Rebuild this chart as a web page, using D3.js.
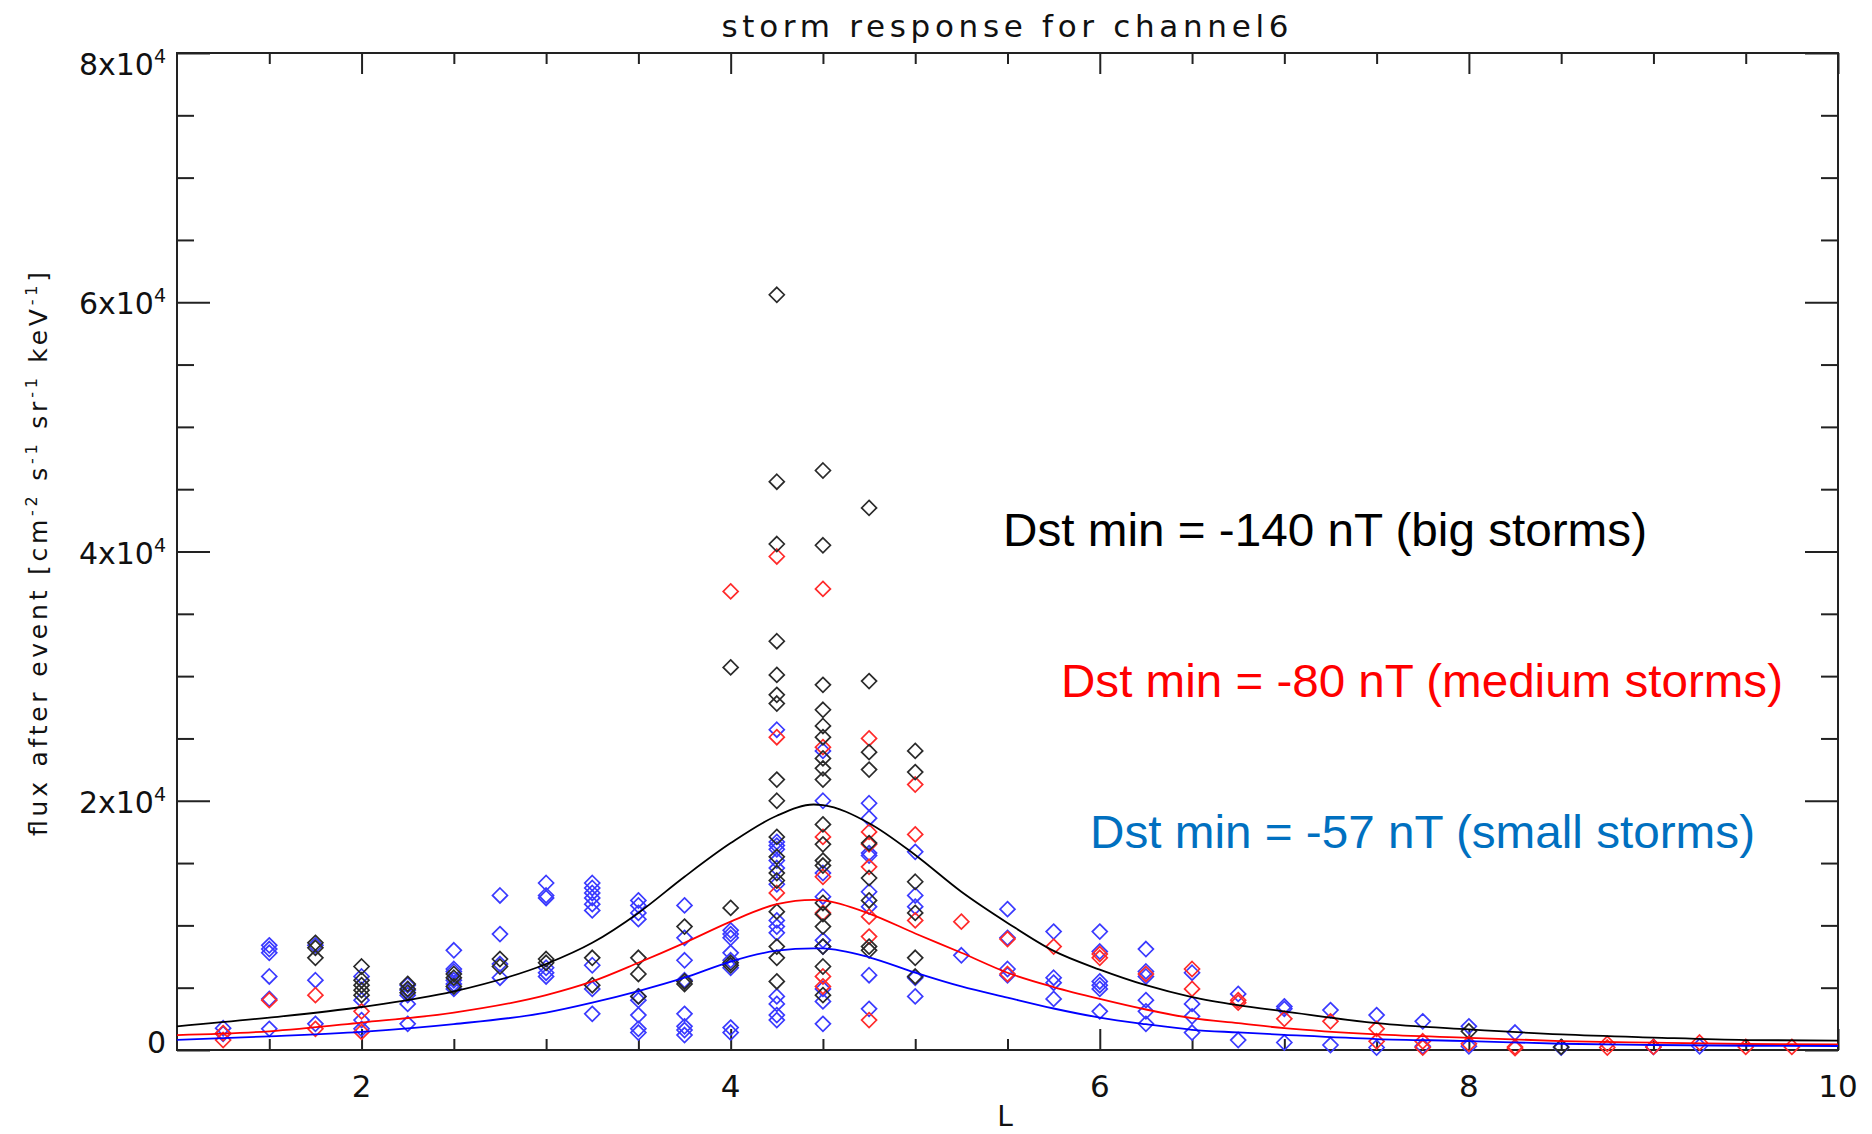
<!DOCTYPE html>
<html>
<head>
<meta charset="utf-8">
<script src="https://cdn.jsdelivr.net/npm/d3@7"></script>
<style>
  body { margin: 0; background: #fff; }
  svg { display: block; }
  .tick line { stroke: #222; stroke-width: 2; }
  .axis-text { font-family: "DejaVu Sans", sans-serif; fill: #111; }
  .legend { font-family: "Liberation Sans", Arial, sans-serif; }
</style>
</head>
<body>
<div id="chart"></div>
<script>
// ---- data ----
// fitted curves (L, flux)
const fitL      = [1, 1.5, 2, 2.5, 3, 3.25, 3.5, 3.75, 4, 4.25, 4.45, 4.5, 4.75, 5, 5.25, 5.5, 5.75, 6, 6.25, 6.5, 6.75, 7, 7.5, 8, 8.5, 9, 9.5, 10];
const bigFit    = [1900, 2600, 3450, 4700, 6900, 8600, 11000, 13900, 16600, 18800, 19700, 19650, 18200, 15650, 12700, 10200, 7950, 6450, 5200, 4250, 3600, 3100, 2150, 1650, 1250, 1000, 800, 750];
const mediumFit = [1200, 1500, 2200, 3000, 4400, 5500, 7000, 8600, 10300, 11700, 12050, 12000, 10950, 9350, 7800, 6200, 5050, 4100, 3250, 2550, 2150, 1750, 1250, 980, 720, 590, 480, 450];
const smallFit  = [820, 1100, 1460, 2080, 3000, 3800, 4730, 5800, 7100, 7970, 8160, 8150, 7440, 6210, 5100, 4200, 3330, 2600, 2070, 1620, 1410, 1220, 880, 720, 500, 400, 340, 320];

// scatter points: [L, [flux values]]
const bigPoints = [
  [1.75, [8600, 8200, 7400]],
  [2.0, [6700, 5600, 5200, 4800, 4400]],
  [2.25, [5300, 4900, 4600]],
  [2.5, [6100, 5800, 5100]],
  [2.75, [7300, 6700]],
  [3.0, [7300, 7000]],
  [3.25, [7400, 5200]],
  [3.5, [7400, 6100, 4300]],
  [3.75, [9900, 5500, 5300]],
  [4.0, [30700, 11400, 7000, 6800]],
  [4.25, [60600, 45600, 40600, 32800, 30100, 28500, 27800, 21700, 20000, 17100, 15500, 14200, 13600, 11100, 8300, 7400, 5500]],
  [4.5, [46500, 40500, 29300, 27300, 26000, 25100, 23400, 22600, 21700, 18100, 16500, 15200, 14800, 11800, 10900, 9900, 8300, 6700, 4400]],
  [4.75, [43500, 29600, 23900, 22500, 16600, 13800, 12000, 8300, 8000]],
  [5.0, [24000, 22300, 13500, 11000, 7400, 5900]],
  [8.0, [1500]],
  [8.5, [250]]
];
const mediumPoints = [
  [1.25, [1350, 800]],
  [1.5, [4000]],
  [1.75, [4400, 1700]],
  [2.0, [3100, 1450]],
  [4.0, [36800]],
  [4.25, [39600, 25100, 12600]],
  [4.5, [37000, 24300, 17100, 13900, 11000, 5900, 5100]],
  [4.75, [25000, 17500, 16500, 14700, 10700, 9100, 2400]],
  [5.0, [21300, 17300, 10400]],
  [5.25, [10300]],
  [5.5, [8900, 6100]],
  [5.75, [8300]],
  [6.0, [7700, 7400]],
  [6.25, [6100]],
  [6.5, [6500, 4900]],
  [6.75, [4000, 3800]],
  [7.0, [2500]],
  [7.25, [2300]],
  [7.5, [1700, 700]],
  [7.75, [700, 200]],
  [8.0, [500]],
  [8.25, [250, 150]],
  [8.75, [500, 200]],
  [9.0, [250]],
  [9.25, [600]],
  [9.5, [250]],
  [9.75, [250]]
];
const smallPoints = [
  [1.25, [1750, 1300]],
  [1.5, [8400, 8100, 7800, 5900, 4100, 1700]],
  [1.75, [8400, 5600, 2100]],
  [2.0, [5900, 4000, 2400, 1700]],
  [2.25, [5200, 4800, 4400, 3700, 2100]],
  [2.5, [8000, 6500, 6300, 5600, 5300, 4900]],
  [2.75, [12400, 9300, 6900, 5800]],
  [3.0, [13400, 12400, 12200, 6600, 6200, 5900]],
  [3.25, [13400, 13000, 12600, 12200, 11700, 11200, 6800, 4900, 2900]],
  [3.5, [12000, 11600, 11000, 10500, 4300, 4000, 2800, 1700, 1400]],
  [3.75, [11600, 9000, 7200, 5600, 2900, 1900, 1600, 1200]],
  [4.0, [9600, 9300, 9000, 7800, 7200, 6600, 1800, 1400]],
  [4.25, [25700, 16700, 16400, 16100, 15200, 14600, 13300, 10400, 9900, 9400, 4300, 3700, 2800, 2400]],
  [4.5, [24000, 20000, 14200, 12300, 8800, 8300, 4900, 3900, 2100]],
  [4.75, [19800, 18600, 15800, 15600, 12700, 11500, 6000, 3300]],
  [5.0, [15900, 12400, 11500, 5800, 4300]],
  [5.25, [7600]],
  [5.5, [11300, 9000, 6500, 6000]],
  [5.75, [9500, 5800, 5400, 4100]],
  [6.0, [9500, 7900, 5500, 5200, 4900, 3100]],
  [6.25, [8100, 6300, 5900, 4000, 3100, 2100]],
  [6.5, [6200, 3700, 2700, 1400]],
  [6.75, [4500, 800]],
  [7.0, [3500, 3300, 600]],
  [7.25, [3200, 400]],
  [7.5, [2800, 200]],
  [7.75, [2300, 300]],
  [8.0, [1900, 300]],
  [8.25, [1400]],
  [8.5, [200]],
  [9.0, [250]],
  [9.25, [300]]
];

const xTickLabels = [2, 4, 6, 8, 10];
const yTickLabels = [0, 20000, 40000, 60000, 80000];
const legendTexts = [
  "Dst min = -140 nT (big storms)",
  "Dst min = -80 nT (medium storms)",
  "Dst min = -57 nT (small storms)"
];

// ---- layout ----
const width = 1872, height = 1134;
const plot = { left: 177, right: 1838, top: 53, bottom: 1050 };

const svg = d3.select("#chart")
  .append("svg")
  .attr("width", width)
  .attr("height", height);

const x = d3.scaleLinear().domain([1, 10]).range([plot.left, plot.right]);
const y = d3.scaleLinear().domain([0, 80000]).range([plot.bottom, plot.top]);

// minor ticks every 0.5 in L and every 5000 in flux
const xMinor = d3.range(1.5, 10, 0.5).filter((v) => v % 2 !== 0);
const yMinor = d3.range(5000, 80000, 5000).filter((v) => v % 20000 !== 0);

function addAxis(axisFn, scale, values, size, transform) {
  const a = svg.append("g")
    .attr("transform", transform)
    .call(axisFn(scale).tickValues(values).tickSize(-size).tickSizeOuter(0).tickFormat(""));
  a.select(".domain").remove();
}

// ticks on all four sides, pointing inward
addAxis(d3.axisBottom, x, xTickLabels, 21, `translate(0,${plot.bottom})`);
addAxis(d3.axisBottom, x, xMinor, 11, `translate(0,${plot.bottom})`);
addAxis(d3.axisTop, x, xTickLabels, 21, `translate(0,${plot.top})`);
addAxis(d3.axisTop, x, xMinor, 11, `translate(0,${plot.top})`);
addAxis(d3.axisLeft, y, yTickLabels, 33, `translate(${plot.left},0)`);
addAxis(d3.axisLeft, y, yMinor, 17, `translate(${plot.left},0)`);
addAxis(d3.axisRight, y, yTickLabels, 33, `translate(${plot.right},0)`);
addAxis(d3.axisRight, y, yMinor, 17, `translate(${plot.right},0)`);

svg.append("rect")
  .attr("x", plot.left)
  .attr("y", plot.top)
  .attr("width", plot.right - plot.left)
  .attr("height", plot.bottom - plot.top)
  .attr("fill", "none")
  .attr("stroke", "#222")
  .attr("stroke-width", 2);

// x tick labels
svg.selectAll("text.xlab")
  .data(xTickLabels)
  .enter()
  .append("text")
  .attr("class", "xlab axis-text")
  .attr("x", (d) => x(d))
  .attr("y", 1097)
  .attr("text-anchor", "middle")
  .attr("font-size", 31)
  .text((d) => d);

// y tick labels like 2x10^4
const yLab = svg.selectAll("text.ylab")
  .data(yTickLabels)
  .enter()
  .append("text")
  .attr("class", "ylab axis-text")
  .attr("x", 166)
  .attr("y", (d) => y(d) + (d === 0 ? 3 : d === 80000 ? 22 : 12))
  .attr("text-anchor", "end")
  .attr("font-size", 30);
yLab.each(function (d) {
  const t = d3.select(this);
  if (d === 0) { t.text("0"); return; }
  const exp = Math.floor(Math.log10(d));
  t.append("tspan").text(`${d / Math.pow(10, exp)}x10`);
  t.append("tspan").attr("dy", -12).attr("font-size", 19).text(exp);
});

// title and axis titles
svg.append("text")
  .attr("class", "axis-text")
  .attr("x", 1005)
  .attr("y", 37)
  .attr("text-anchor", "middle")
  .attr("font-size", 31)
  .attr("textLength", 567)
  .attr("lengthAdjust", "spacing")
  .text("storm response for channel6");

svg.append("text")
  .attr("class", "axis-text")
  .attr("x", 1005)
  .attr("y", 1126)
  .attr("text-anchor", "middle")
  .attr("font-size", 28)
  .text("L");

const yTitle = svg.append("text")
  .attr("class", "axis-text")
  .attr("transform", "translate(47,554) rotate(-90)")
  .attr("text-anchor", "middle")
  .attr("font-size", 25)
  .attr("textLength", 564)
  .attr("lengthAdjust", "spacing");
const yParts = [["flux after event [cm", ""], ["-2", "sup"], [" s", ""], ["-1", "sup"],
  [" sr", ""], ["-1", "sup"], [" keV", ""], ["-1", "sup"], ["]", ""]];
yParts.forEach(([txt, kind]) => {
  yTitle.append("tspan")
    .attr("dy", kind === "sup" ? -10 : 10)
    .attr("font-size", kind === "sup" ? 16 : 25)
    .text(txt);
});
yTitle.select("tspan").attr("dy", 0);

// diamond marker (square turned 45 degrees)
const diamond = {
  draw(ctx, size) {
    const r = Math.sqrt(size / 2);
    ctx.moveTo(0, -r);
    ctx.lineTo(r, 0);
    ctx.lineTo(0, r);
    ctx.lineTo(-r, 0);
    ctx.closePath();
  }
};
const sym = d3.symbol().type(diamond).size(112);

const series = [
  { points: smallPoints, pointColor: "#3a3aff" },
  { points: mediumPoints, pointColor: "#ff2a2a" },
  { points: bigPoints, pointColor: "#2a2a2a" }
];

const pts = svg.append("g");
series.forEach((s) => {
  const flat = s.points.flatMap(([L, vals]) => vals.map((v) => ({ L, v })));
  pts.append("g")
    .selectAll("path")
    .data(flat)
    .enter()
    .append("path")
    .attr("d", sym)
    .attr("transform", (d) => `translate(${x(d.L)},${y(d.v)})`)
    .attr("fill", "none")
    .attr("stroke", s.pointColor)
    .attr("stroke-width", 1.7);
});

const line = d3.line()
  .x((d, i) => x(fitL[i]))
  .y((d) => y(d))
  .curve(d3.curveMonotoneX);

[bigFit, mediumFit, smallFit].forEach((f, i) => {
  svg.append("path")
    .datum(f)
    .attr("d", line)
    .attr("fill", "none")
    .attr("stroke", ["#000000", "#ff0000", "#0000ff"][i])
    .attr("stroke-width", 1.8);
});

// legend notes
const legendColors = ["#000000", "#ff0000", "#0070c0"];
const legendPos = [[1003, 546, 644], [1061, 697, 722], [1090, 848, 665]];
svg.selectAll("text.legend")
  .data(legendTexts)
  .enter()
  .append("text")
  .attr("class", "legend")
  .attr("x", (d, i) => legendPos[i][0])
  .attr("y", (d, i) => legendPos[i][1])
  .attr("textLength", (d, i) => legendPos[i][2])
  .attr("lengthAdjust", "spacingAndGlyphs")
  .attr("font-size", 46)
  .attr("fill", (d, i) => legendColors[i])
  .text((d) => d);
</script>
</body>
</html>
